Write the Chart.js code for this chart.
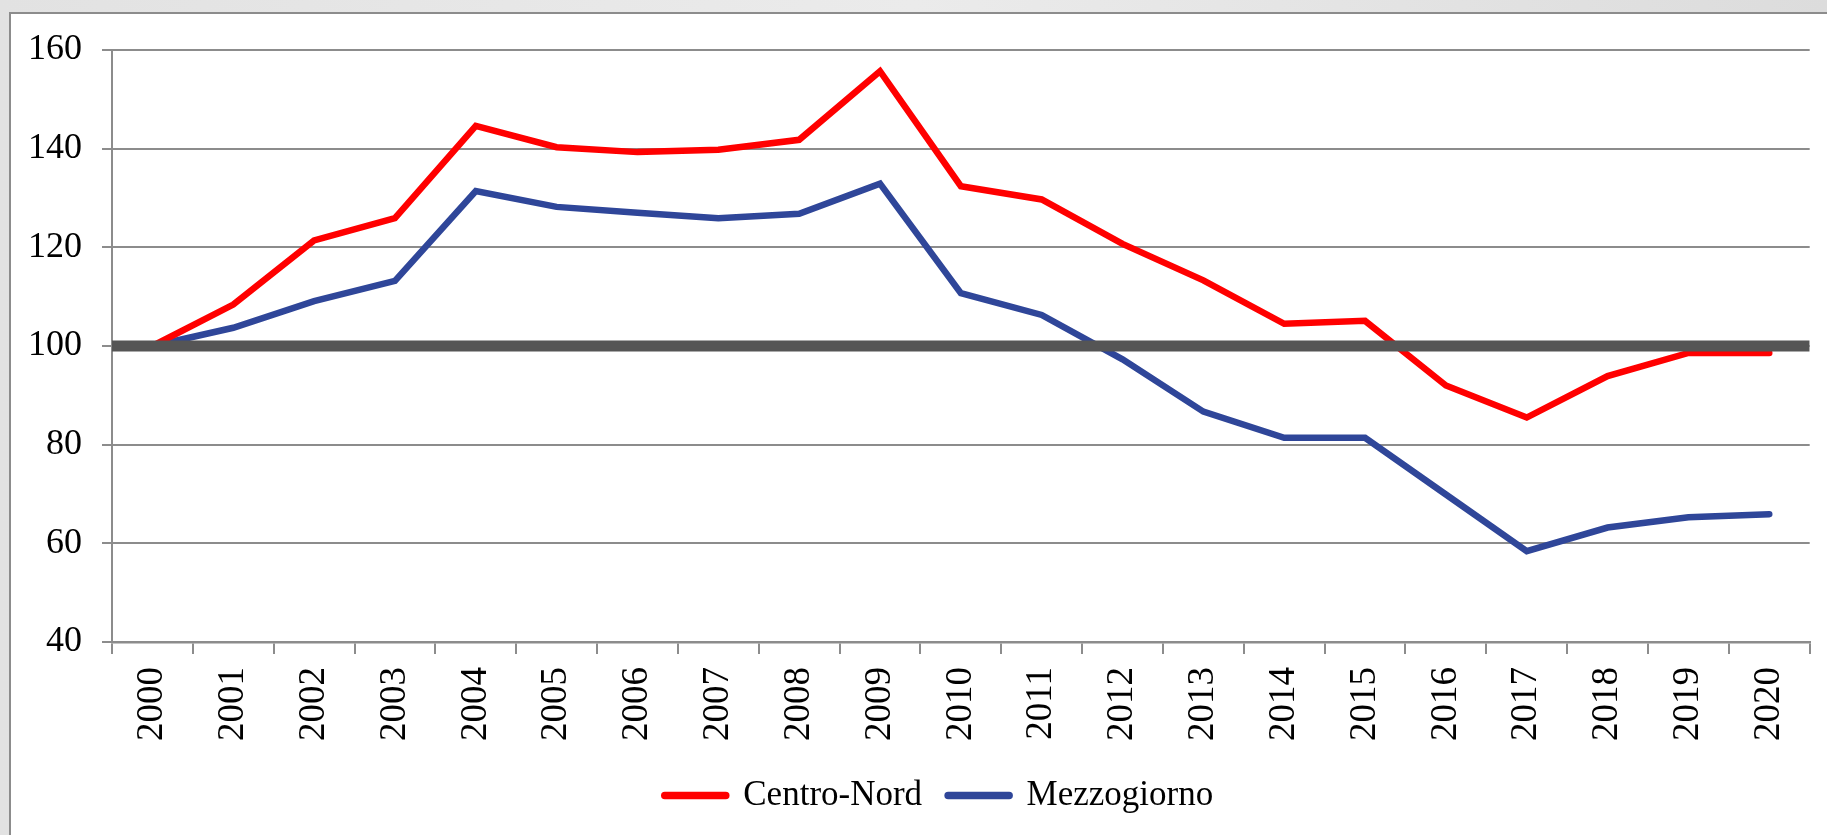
<!DOCTYPE html>
<html>
<head>
<meta charset="utf-8">
<script src="https://cdn.jsdelivr.net/npm/chart.js@4.4.0/dist/chart.umd.min.js"></script>
<style>
    html, body { margin: 0; padding: 0; }
    body {
        width: 1827px;
        height: 835px;
        overflow: hidden;
        position: relative;
        background: linear-gradient(90deg, #e2e2e2, #ebebeb 50%, #dcdcdc);
    }
    #panel {
        position: absolute;
        left: 9px;
        top: 12px;
        width: 1830px;
        height: 840px;
        border-left: 2px solid #8c8c8c;
        border-top: 2px solid #8c8c8c;
        background: #fff;
    }
    #wrap {
        position: absolute;
        left: 11px;
        top: 14px;
        width: 1816px;
        height: 821px;
    }
</style>
</head>
<body>
<div id="panel"></div>
<div id="wrap"><canvas id="chart"></canvas></div>
<script>
// Chart data
const years = ['2000', '2001', '2002', '2003', '2004', '2005', '2006', '2007', '2008', '2009', '2010',
    '2011', '2012', '2013', '2014', '2015', '2016', '2017', '2018', '2019', '2020'];
const centroNord = [100, 108.4, 121.4, 125.9, 144.6, 140.3, 139.3, 139.8, 141.8, 155.7, 132.4,
    129.7, 120.7, 113.3, 104.5, 105.1, 92.0, 85.5, 93.9, 98.6, 98.6];
const mezzogiorno = [100, 103.7, 109.1, 113.2, 131.4, 128.2, 127.0, 125.9, 126.8, 132.9, 110.7,
    106.3, 97.3, 86.7, 81.4, 81.4, 69.9, 58.4, 63.2, 65.3, 65.9];
const baseLevel = 100;
const yTicks = { min: 40, max: 160, step: 20 };

const serif = '"Liberation Serif", "Times New Roman", serif';
const gridGrey = '#8c8c8c';

// legend sits a little right of the canvas centre in the original
const legendShift = {
    id: 'legendShift',
    afterLayout(chart) {
        if (!chart.legend) return;
        chart.legend.left += 27;
        chart.legend.right += 27;
    }
};

function renderChart() {
    const canvas = document.getElementById('chart');
    if (!canvas || !window.Chart) return;

    new Chart(canvas, {
        type: 'line',
        data: {
            labels: years,
            datasets: [
                {
                    label: 'Centro-Nord',
                    data: centroNord,
                    borderColor: '#ff0000',
                    backgroundColor: '#ff0000',
                    borderWidth: 6.5,
                    borderCapStyle: 'round',
                    borderJoinStyle: 'miter',
                    pointRadius: 0,
                    pointStyle: 'line',
                    tension: 0
                },
                {
                    label: 'Mezzogiorno',
                    data: mezzogiorno,
                    borderColor: '#2f4699',
                    backgroundColor: '#2f4699',
                    borderWidth: 6.5,
                    borderCapStyle: 'round',
                    borderJoinStyle: 'miter',
                    pointRadius: 0,
                    pointStyle: 'line',
                    tension: 0
                },
                {
                    // reference level, spans the whole plot width
                    label: 'base',
                    data: [{ x: 0, y: baseLevel }, { x: 1, y: baseLevel }],
                    xAxisID: 'x2',
                    borderColor: '#555555',
                    borderWidth: 11,
                    pointRadius: 0,
                    order: -1
                }
            ]
        },
        options: {
            responsive: true,
            maintainAspectRatio: false,
            animation: false,
            layout: { padding: { left: 0, top: 36, right: 14, bottom: 12 } },
            plugins: {
                tooltip: { enabled: false },
                legend: {
                    position: 'bottom',
                    labels: {
                        filter: item => item.text !== 'base',
                        usePointStyle: true,
                        pointStyleWidth: 61,
                        boxHeight: 35,
                        padding: 26,
                        color: '#000',
                        font: { family: serif, size: 35 },
                        generateLabels: chart => {
                            const items = Chart.defaults.plugins.legend.labels.generateLabels(chart);
                            items.forEach(item => { item.lineWidth = 7.5; item.lineCap = 'round'; });
                            return items;
                        }
                    }
                }
            },
            scales: {
                x: {
                    type: 'category',
                    offset: true,
                    afterFit: scale => { scale.height = 110; },
                    grid: {
                        offset: true,
                        drawOnChartArea: false,
                        drawTicks: true,
                        tickLength: 12,
                        color: gridGrey,
                        lineWidth: 2
                    },
                    border: { color: gridGrey, width: 2.5 },
                    ticks: {
                        autoSkip: false,
                        minRotation: 90,
                        maxRotation: 90,
                        padding: 13,
                        color: '#000',
                        font: { family: serif, size: 37 }
                    }
                },
                x2: {
                    type: 'linear',
                    display: false,
                    min: 0,
                    max: 1
                },
                y: {
                    min: yTicks.min,
                    max: yTicks.max,
                    afterFit: scale => {
                        scale.width = 101;
                        scale.paddingTop = 0;
                    },
                    grid: {
                        color: gridGrey,
                        lineWidth: 2,
                        tickLength: 10
                    },
                    border: { color: gridGrey, width: 2 },
                    ticks: {
                        stepSize: yTicks.step,
                        padding: 20,
                        color: '#000',
                        font: { family: serif, size: 36 }
                    }
                }
            }
        },
        plugins: [legendShift]
    });
}

document.addEventListener('DOMContentLoaded', renderChart);
</script>
</body>
</html>
